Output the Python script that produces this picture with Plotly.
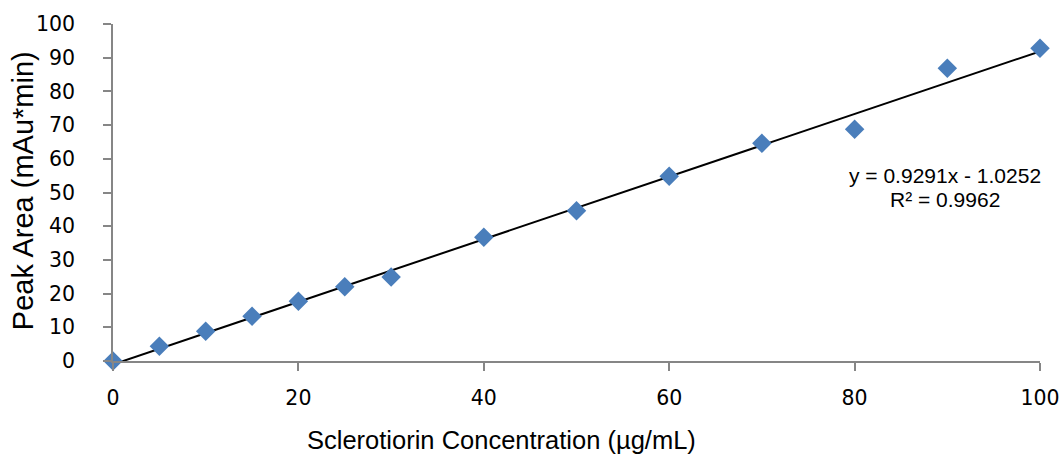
import plotly.graph_objects as go

# Data
concentration = [0, 5, 10, 15, 20, 25, 30, 40, 50, 60, 70, 80, 90, 100]
peak_area = [0.0, 4.4, 8.8, 13.3, 17.7, 22.0, 24.9, 36.7, 44.6, 54.8, 64.6, 68.8, 86.9, 92.8]

# Linear trend line as stated on the chart
slope = 0.9291
intercept = -1.0252
trend_x = [0, 100]
trend_y = [slope * x + intercept for x in trend_x]

x_ticks = [0, 20, 40, 60, 80, 100]
y_ticks = [0, 10, 20, 30, 40, 50, 60, 70, 80, 90, 100]

x_title = "Sclerotiorin Concentration (µg/mL)"
y_title = "Peak Area (mAu*min)"
eq_text = "y = 0.9291x - 1.0252"
r2_text = "R² = 0.9962"

fig = go.Figure()
fig.add_trace(go.Scatter(
    x=trend_x, y=trend_y, mode="lines",
    line=dict(color="black", width=2),
    showlegend=False, hoverinfo="skip",
))
fig.add_trace(go.Scatter(
    x=concentration, y=peak_area, mode="markers",
    marker=dict(symbol="diamond", size=15, color="#4A7EBB", line=dict(width=0)),
    cliponaxis=False, showlegend=False,
))

fig.update_layout(
    width=1062, height=459,
    margin=dict(l=113, r=22, t=24, b=98),
    paper_bgcolor="white", plot_bgcolor="white",
    showlegend=False,
    xaxis=dict(
        range=[0, 100], tickvals=x_ticks, showgrid=False, zeroline=False,
        automargin=False,
        showline=True, linecolor="#868686", linewidth=1.5,
        ticks="outside", ticklen=8, tickcolor="#868686", tickwidth=1.5,
        tickfont=dict(family="DejaVu Sans", size=20.5, color="black"),
        ticklabelstandoff=10,
    ),
    yaxis=dict(
        range=[0, 100], tickvals=y_ticks, showgrid=False, zeroline=False,
        automargin=False,
        showline=True, linecolor="#868686", linewidth=1.5,
        ticks="outside", ticklen=8, tickcolor="#868686", tickwidth=1.5,
        tickfont=dict(family="DejaVu Sans", size=20.5, color="black"),
        ticklabelstandoff=24,
    ),
    annotations=[
        dict(x=0.4186, y=-0.234, xref="paper", yref="paper", text=x_title,
             showarrow=False,
             font=dict(family="Liberation Sans", size=25.5, color="black"),
             xanchor="center", yanchor="middle"),
        dict(x=-0.0971, y=0.507, xref="paper", yref="paper", text=y_title,
             showarrow=False, textangle=-90,
             font=dict(family="Liberation Sans", size=29, color="black"),
             xanchor="center", yanchor="middle"),
        dict(x=89.8, y=55.0, xref="x", yref="y", text=eq_text, showarrow=False,
             font=dict(family="Liberation Sans", size=21, color="black"),
             xanchor="center", yanchor="middle"),
        dict(x=89.8, y=47.9, xref="x", yref="y", text=r2_text, showarrow=False,
             font=dict(family="Liberation Sans", size=21, color="black"),
             xanchor="center", yanchor="middle"),
    ],
)

fig.write_html("out.html")
